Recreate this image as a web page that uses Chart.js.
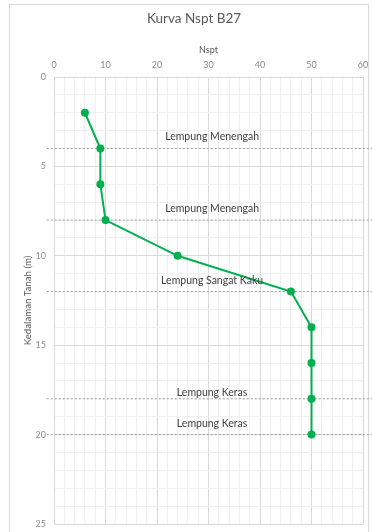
<!DOCTYPE html>
<html>
<head>
<meta charset="utf-8">
<script src="https://cdn.jsdelivr.net/npm/chart.js@4/dist/chart.umd.min.js"></script>
<style>
  html, body { margin: 0; padding: 0; background: #ffffff; }
  #wrap { position: relative; width: 372px; height: 532px; overflow: hidden; }
  #frame { position: absolute; left: 9px; top: 4px; width: 360px; height: 560px;
           border: 1px solid #d9d9d9; box-sizing: border-box; }
  canvas { position: absolute; left: 0; top: 0; }
</style>
</head>
<body>
<div id="wrap">
  <div id="frame"></div>
  <canvas id="chart" width="372" height="532"></canvas>
</div>
<script>
// N-SPT test results against depth, borehole B27
const depthValues = [2, 4, 6, 8, 10, 12, 14, 16, 18, 20];
const nsptValues  = [6, 9, 9, 10, 24, 46, 50, 50, 50, 50];

// soil layer boundaries (m) and the layer names written above them
const layerBoundaries = [4, 8, 12, 18, 20];
const layerNames = ['Lempung Menengah', 'Lempung Menengah', 'Lempung Sangat Kaku', 'Lempung Keras', 'Lempung Keras'];
const layerNameDepths = [3.35, 7.35, 11.4, 17.65, 19.4];
const layerNameNspt = [30.7, 30.7, 30.7, 30.7, 30.7];

// labelled ticks on each axis
const nsptTicks = [0, 10, 20, 30, 40, 50, 60];
const depthTicks = [0, 5, 10, 15, 20, 25];

const FONT = 'Lato, "Open Sans", sans-serif';
const GREEN = '#00b050';

const profile = depthValues.map((d, i) => ({ x: nsptValues[i], y: d }));

const boundarySets = layerBoundaries.map(b => ({
  data: [{ x: -1.4, y: b }, { x: 62, y: b }],
  showLine: true,
  borderColor: '#9c9c9c',
  borderWidth: 1,
  borderDash: [2, 2],
  pointRadius: 0,
  clip: false,
  order: 2
}));

const gridColor = (ticks) => (ctx) =>
  (ctx.tick && ticks.includes(ctx.tick.value)) ? '#d9d9d9' : '#efefef';

const titlePlugin = {
  id: 'chartHeading',
  afterDraw(chart) {
    const ctx = chart.ctx;
    ctx.save();
    ctx.font = '13.5px ' + FONT;
    ctx.fillStyle = '#595959';
    ctx.textAlign = 'center';
    ctx.textBaseline = 'middle';
    ctx.fillText('Kurva Nspt B27', 194, 19);
    ctx.restore();
  }
};

const layerNamePlugin = {
  id: 'layerNames',
  afterDatasetsDraw(chart) {
    const ctx = chart.ctx;
    const xs = chart.scales.x, ys = chart.scales.y;
    ctx.save();
    ctx.font = '10.5px ' + FONT;
    ctx.fillStyle = '#404040';
    ctx.textAlign = 'center';
    ctx.textBaseline = 'middle';
    layerNames.forEach((name, i) => {
      ctx.fillText(name, xs.getPixelForValue(layerNameNspt[i]), ys.getPixelForValue(layerNameDepths[i]));
    });
    ctx.restore();
  }
};

new Chart(document.getElementById('chart'), {
  type: 'scatter',
  data: {
    datasets: [
      {
        label: 'Nspt',
        data: profile,
        showLine: true,
        borderColor: GREEN,
        backgroundColor: GREEN,
        borderWidth: 2,
        pointRadius: 3,
        pointBackgroundColor: GREEN,
        pointBorderColor: GREEN,
        order: 0
      },
      ...boundarySets
    ]
  },
  options: {
    responsive: false,
    animation: false,
    events: [],
    layout: { padding: { left: 0, right: 9, top: 27, bottom: 8 } },
    plugins: {
      legend: { display: false },
      title: { display: false },
      tooltip: { enabled: false }
    },
    scales: {
      x: {
        type: 'linear',
        position: 'top',
        min: 0, max: 60,
        ticks: {
          stepSize: 2,
          autoSkip: false,
          maxRotation: 0,
          padding: 6.6,
          color: '#8c8c8c',
          font: { family: FONT, size: 9 },
          callback: v => nsptTicks.includes(v) ? String(v) : ''
        },
        grid: { color: gridColor(nsptTicks), drawTicks: false, lineWidth: 1 },
        border: { color: '#d9d9d9' },
        title: {
          display: true,
          text: 'Nspt',
          color: '#595959',
          font: { family: FONT, size: 9 },
          padding: { top: 17.6, bottom: 0 }
        },
        afterFit(scale) {
          scale.height = 50;
          scale.paddingLeft = 0;
          scale.paddingRight = 0;
        }
      },
      y: {
        type: 'linear',
        position: 'left',
        reverse: true,
        min: 0, max: 25,
        ticks: {
          stepSize: 1,
          autoSkip: false,
          padding: 8,
          color: '#8c8c8c',
          font: { family: FONT, size: 9 },
          callback: v => depthTicks.includes(v) ? String(v) : ''
        },
        grid: { color: gridColor(depthTicks), drawTicks: false, lineWidth: 1 },
        border: { color: '#d9d9d9' },
        title: {
          display: true,
          text: 'Kedalaman Tanah (m)',
          color: '#595959',
          font: { family: FONT, size: 9.7 },
          padding: { top: 22.5, bottom: 0 }
        },
        afterFit(scale) {
          scale.width = 54;
          scale.paddingTop = 0;
          scale.paddingBottom = 0;
        }
      }
    }
  },
  plugins: [titlePlugin, layerNamePlugin]
});
</script>
</body>
</html>
